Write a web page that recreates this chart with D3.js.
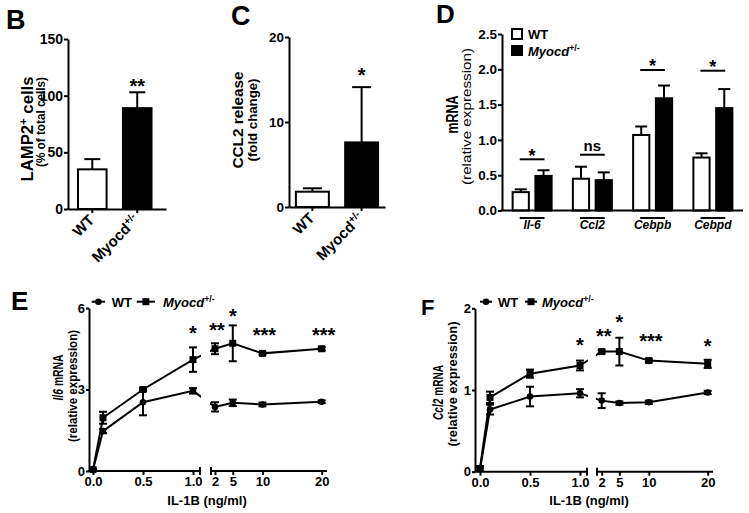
<!DOCTYPE html>
<html><head><meta charset="utf-8">
<script src="https://cdn.jsdelivr.net/npm/d3@7"></script>
<style>
body{margin:0;background:#fff}
svg{display:block;background:#fff}
</style></head><body>
<svg id="chart" width="749" height="513"></svg>
<script>
// ---------------- DATA ----------------
const groups = ["WT", "Myocd+/-"];
// Panel B
const lamp2Mean = [35, 89];
const lamp2Err = [9, 14];
const lamp2Ticks = [0, 50, 100, 150];
const lamp2Sig = ["", "**"];
const lamp2SigY = [0, 112];
// Panel C
const ccl2RelMean = [1.8, 7.6];
const ccl2RelErr = [0.4, 6.5];
const ccl2RelTicks = [0, 10, 20];
const ccl2RelSig = ["", "*"];
const ccl2RelSigY = [0, 16.1];
// Panel D
const genes = ["Il-6", "Ccl2", "Cebpb", "Cebpd"];
const geneWT = [0.26, 0.45, 1.07, 0.75];
const geneWTErr = [0.04, 0.17, 0.12, 0.06];
const geneMyocd = [0.49, 0.43, 1.59, 1.45];
const geneMyocdErr = [0.08, 0.11, 0.18, 0.27];
const geneSig = ["*", "ns", "*", "*"];
const geneSigLineY = [0.725, 0.79, 1.99, 1.98];
const geneTicks = [0, 0.5, 1.0, 1.5, 2.0, 2.5];
// Panels E, F
const doses = [0, 0.1, 0.5, 1, 2, 5, 10, 20];
const doseTicksLow = [0, 0.5, 1];
const doseTicksHigh = [2, 5, 10, 20];
const il6WT = [0.05, 1.47, 2.53, 2.95, 2.36, 2.51, 2.45, 2.55];
const il6WTErr = [0.03, 0.08, 0.48, 0.10, 0.17, 0.12, 0.07, 0.05];
const il6Myocd = [0.05, 1.96, 3.00, 4.10, 4.50, 4.70, 4.33, 4.50];
const il6MyocdErr = [0.03, 0.22, 0.06, 0.45, 0.20, 0.66, 0.05, 0.06];
const il6Sig = ["", "", "", "*", "**", "*", "***", "***"];
const il6SigY = [0, 0, 0, 5.24, 5.37, 5.85, 5.17, 5.17];
const il6Ticks = [0, 3, 6];
const ccl2WT = [0.03, 0.76, 0.92, 0.96, 0.87, 0.84, 0.85, 0.97];
const ccl2WTErr = [0.02, 0.06, 0.12, 0.05, 0.09, 0.02, 0.02, 0.02];
const ccl2Myocd = [0.04, 0.91, 1.20, 1.30, 1.47, 1.47, 1.36, 1.32];
const ccl2MyocdErr = [0.03, 0.07, 0.05, 0.06, 0.02, 0.17, 0.02, 0.05];
const ccl2Sig = ["", "", "", "*", "**", "*", "***", "*"];
const ccl2SigY = [0, 0, 0, 1.61, 1.71, 1.89, 1.65, 1.59];
const ccl2Ticks = [0, 1, 2];

// ---------------- HELPERS ----------------
const FONT = '"Liberation Sans", Arial, Helvetica, sans-serif';
const svg = d3.select("#chart");

function styleAxis(g, fs) {
  g.selectAll("path.domain").attr("stroke", "#000").attr("stroke-width", 2);
  g.selectAll(".tick line").attr("stroke", "#000").attr("stroke-width", 2);
  g.selectAll(".tick text").attr("font-family", FONT).attr("font-weight", "bold")
    .attr("font-size", fs).attr("fill", "#000");
}
function txt(parent, x, y, s, fs, opts = {}) {
  const t = parent.append("text").attr("x", x).attr("y", y)
    .attr("font-family", FONT).attr("font-weight", opts.weight || "bold")
    .attr("font-size", fs).attr("fill", "#000")
    .attr("text-anchor", opts.anchor || "start");
  if (opts.dy) t.attr("dy", opts.dy);
  if (opts.italic) t.attr("font-style", "italic");
  t.text(s);
  return t;
}
// parts: [text, flag] flag: "i" italic, "s" superscript
function richText(parent, parts, fs, opts = {}) {
  const t = parent.append("text").attr("font-family", FONT)
    .attr("font-weight", opts.weight || "bold").attr("font-size", fs)
    .attr("fill", "#000").attr("text-anchor", opts.anchor || "start");
  if (opts.italic) t.attr("font-style", "italic");
  let shifted = false;
  parts.forEach(([s, f]) => {
    const sp = t.append("tspan").text(s);
    if (f && f.includes("i")) sp.attr("font-style", "italic");
    if (f && f.includes("s")) { sp.attr("font-size", fs * 0.68).attr("dy", -fs * 0.38); shifted = true; }
    else if (shifted) { sp.attr("dy", fs * 0.38); shifted = false; }
  });
  return t;
}
function rotLabel(cx, cy, parts, fs, len, weight) {
  const wrap = svg.append("g").attr("transform", `translate(${cx},${cy}) rotate(-90)`);
  const t = richText(wrap, parts, fs, { anchor: "middle", weight: weight || "bold" });
  t.attr("x", 0).attr("y", 0).attr("dy", "0.35em");
  if (len) t.attr("textLength", len).attr("lengthAdjust", "spacingAndGlyphs");
  return t;
}

// ---------------- PANEL LETTERS ----------------
txt(svg, 6, 29, "B", 27);
txt(svg, 231, 25, "C", 27);
txt(svg, 436, 23, "D", 26);
txt(svg, 11, 310, "E", 26);
txt(svg, 421, 315, "F", 22);

// ---------------- BAR PANELS B, C ----------------
function barPanel(means, errs, ticks, sig, sigY, cfg) {
  const g = svg.append("g");
  const y = d3.scaleLinear().domain([0, ticks[ticks.length - 1]]).range(cfg.yRange);
  const x = d3.scaleBand().domain(groups).range(cfg.xRange)
    .paddingInner(cfg.pi).paddingOuter(cfg.po).align(cfg.al);
  g.selectAll("rect.bar").data(groups).join("rect")
    .attr("x", d => x(d) + 1).attr("width", x.bandwidth() - 2)
    .attr("y", (d, i) => y(means[i])).attr("height", (d, i) => y(0) - y(means[i]))
    .attr("fill", (d, i) => i === 0 ? "#fff" : "#000")
    .attr("stroke", "#000").attr("stroke-width", 2);
  groups.forEach((d, i) => {
    const cx = x(d) + x.bandwidth() / 2;
    g.append("line").attr("x1", cx).attr("x2", cx).attr("y1", y(means[i])).attr("y2", y(means[i] + errs[i]))
      .attr("stroke", "#000").attr("stroke-width", 2);
    g.append("line").attr("x1", cx - cfg.cap / 2).attr("x2", cx + cfg.cap / 2)
      .attr("y1", y(means[i] + errs[i])).attr("y2", y(means[i] + errs[i]))
      .attr("stroke", "#000").attr("stroke-width", 2);
    if (sig[i]) txt(g, cx, y(sigY[i]), sig[i], 20, { anchor: "middle", dy: "0.57em" });
  });
  const ya = g.append("g").attr("transform", `translate(${cfg.xRange[0]},0)`)
    .call(d3.axisLeft(y).tickValues(ticks).tickFormat(d3.format("d")).tickSize(4).tickPadding(1).tickSizeOuter(0));
  styleAxis(ya, cfg.tickFs);
  const xa = g.append("g").attr("transform", `translate(0,${cfg.yRange[0]})`)
    .call(d3.axisBottom(x).tickSize(4).tickSizeOuter(0).tickFormat(""));
  styleAxis(xa, 12);
  const c45 = Math.SQRT1_2;
  groups.forEach((d, i) => {
    const cx = x(d) + x.bandwidth() / 2;
    const parts = i === 0 ? [["WT"]] : [["Myocd"], ["+/-", "s"]];
    const wrap = g.append("g")
      .attr("transform", `matrix(${c45},${-c45},${c45},${c45},${cx + 3},${cfg.yRange[0] + 12})`);
    richText(wrap, parts, 15, { anchor: "end" }).attr("x", 0).attr("y", 0);
  });
}
barPanel(lamp2Mean, lamp2Err, lamp2Ticks, lamp2Sig, lamp2SigY,
  { yRange: [209, 39], xRange: [68, 166], pi: 0.32, po: 0.25, al: 0.4, cap: 16, tickFs: 14 });
barPanel(ccl2RelMean, ccl2RelErr, ccl2RelTicks, ccl2RelSig, ccl2RelSigY,
  { yRange: [207, 37], xRange: [289, 385], pi: 0.29, po: 0.12, al: 0.5, cap: 19, tickFs: 13.5 });

rotLabel(27, 129, [["LAMP2"], ["+", "s"], [" cells"]], 16, 105);
rotLabel(41, 122, [["(% of total cells)"]], 12, 90);
rotLabel(238, 120, [["CCL2 release"]], 15.5, 97);
rotLabel(252, 120, [["(fold change)"]], 13.5, 83);

// ---------------- PANEL D ----------------
(function () {
  const g = svg.append("g");
  const y = d3.scaleLinear().domain([0, 2.5]).range([210.5, 34]);
  const x = d3.scaleBand().domain(genes).range([502, 743]);
  const sub = d3.scaleBand().domain(groups).range([-20.5, 20.5]).paddingInner(0.2);
  const vals = [geneWT, geneMyocd], errs = [geneWTErr, geneMyocdErr];
  genes.forEach((gene, gi) => {
    const c = x(gene) + x.bandwidth() / 2;
    groups.forEach((grp, k) => {
      const v = vals[k][gi], e = errs[k][gi];
      const bx = c + sub(grp);
      const cx = bx + sub.bandwidth() / 2;
      g.append("line").attr("x1", cx).attr("x2", cx).attr("y1", y(v)).attr("y2", y(v + e))
        .attr("stroke", "#000").attr("stroke-width", 2);
      g.append("line").attr("x1", cx - 6).attr("x2", cx + 6).attr("y1", y(v + e)).attr("y2", y(v + e))
        .attr("stroke", "#000").attr("stroke-width", 2);
      g.append("rect").attr("x", bx + 1).attr("width", sub.bandwidth() - 2)
        .attr("y", y(v)).attr("height", y(0) - y(v))
        .attr("fill", k === 0 ? "#fff" : "#000").attr("stroke", "#000").attr("stroke-width", 2);
    });
    const x1 = c + sub(groups[0]) + sub.bandwidth() / 2 - 1;
    const x2 = c + sub(groups[1]) + sub.bandwidth() / 2 + 1;
    g.append("line").attr("x1", x1).attr("x2", x2)
      .attr("y1", y(geneSigLineY[gi])).attr("y2", y(geneSigLineY[gi]))
      .attr("stroke", "#000").attr("stroke-width", 2);
    if (geneSig[gi] === "ns") txt(g, c, y(geneSigLineY[gi]) - 4, "ns", 15, { anchor: "middle" });
    else txt(g, c, y(geneSigLineY[gi]) - 8, geneSig[gi], 18, { anchor: "middle", dy: "0.57em" });
    g.append("line").attr("x1", x1).attr("x2", x2).attr("y1", 218).attr("y2", 218)
      .attr("stroke", "#000").attr("stroke-width", 2);
    txt(g, c, 229, gene, 12, { anchor: "middle", italic: true });
  });
  const ya = g.append("g").attr("transform", "translate(502,0)")
    .call(d3.axisLeft(y).tickValues(geneTicks).tickFormat(d3.format(".1f")).tickSize(4).tickPadding(1).tickSizeOuter(0));
  styleAxis(ya, 13.5);
  g.append("line").attr("x1", 501).attr("x2", 743).attr("y1", y(0)).attr("y2", y(0))
    .attr("stroke", "#000").attr("stroke-width", 2);
  g.append("rect").attr("x", 512).attr("y", 29).attr("width", 10).attr("height", 10)
    .attr("fill", "#fff").attr("stroke", "#000").attr("stroke-width", 2);
  g.append("rect").attr("x", 511).attr("y", 45).attr("width", 12).attr("height", 11).attr("fill", "#000");
  txt(g, 528, 39, "WT", 13);
  richText(g, [["Myocd", "i"], ["+/-", "s"]], 13).attr("x", 528).attr("y", 56);
  rotLabel(452, 114.5, [["mRNA"]], 16, 38);
  rotLabel(466.5, 116.5, [["(relative expression)"]], 13.5, 137, "normal");
})();

// ---------------- DOSE PANELS E, F ----------------
function dosePanel(wt, wtE, my, myE, sig, sigY, ticks, cfg) {
  const g = svg.append("g");
  const y = d3.scaleLinear().domain([0, ticks[ticks.length - 1]]).range(cfg.yRange);
  const x1 = d3.scaleLinear().domain([0, 1]).range(cfg.x1Range);
  const x2 = d3.scaleLinear().domain([2, 20]).range(cfg.x2Range);
  const xf = d => d <= 1 ? x1(d) : x2(d);
  const y0 = cfg.yRange[0];
  const ya = g.append("g").attr("transform", `translate(${cfg.axisX},0)`)
    .call(d3.axisLeft(y).tickValues(ticks).tickFormat(d3.format("d")).tickSize(3).tickPadding(1).tickSizeOuter(0));
  styleAxis(ya, 13);
  const xa1 = g.append("g").attr("transform", `translate(0,${y0})`)
    .call(d3.axisBottom(x1).tickValues(doseTicksLow).tickFormat(d3.format(".1f")).tickSize(4).tickPadding(2).tickSizeOuter(0));
  xa1.select("path.domain").remove();
  styleAxis(xa1, 13);
  const xa2 = g.append("g").attr("transform", `translate(0,${y0})`)
    .call(d3.axisBottom(x2).tickValues(doseTicksHigh).tickFormat(d3.format("d")).tickSize(4).tickPadding(2).tickSizeOuter(0));
  xa2.select("path.domain").remove();
  styleAxis(xa2, 13);
  [[cfg.axisX - 1, cfg.seg1End], [cfg.seg2Start, cfg.seg2End]].forEach(([a, b]) => {
    g.append("line").attr("x1", a).attr("x2", b).attr("y1", y0).attr("y2", y0)
      .attr("stroke", "#000").attr("stroke-width", 2);
  });
  [cfg.seg1End - 1, cfg.seg2Start + 1].forEach(bx => {
    g.append("line").attr("x1", bx).attr("x2", bx).attr("y1", y0 - 4).attr("y2", y0 + 4)
      .attr("stroke", "#000").attr("stroke-width", 2);
  });
  const id = cfg.id;
  const defs = svg.append("defs");
  defs.append("clipPath").attr("id", id + "c1").append("rect")
    .attr("x", 0).attr("y", 0).attr("width", cfg.seg1End).attr("height", 513);
  defs.append("clipPath").attr("id", id + "c2").append("rect")
    .attr("x", cfg.seg2Start).attr("y", 0).attr("width", 749 - cfg.seg2Start).attr("height", 513);
  const line = d3.line().x((d, i) => xf(doses[i])).y(d => y(d));
  [wt, my].forEach(series => {
    ["c1", "c2"].forEach(c => {
      g.append("path").datum(series).attr("d", line).attr("fill", "none")
        .attr("stroke", "#000").attr("stroke-width", 2).attr("clip-path", `url(#${id}${c})`);
    });
  });
  [[wt, wtE, "c"], [my, myE, "s"]].forEach(([vals, errs, shape]) => {
    vals.forEach((v, i) => {
      const cx = xf(doses[i]);
      const e = errs[i];
      g.append("line").attr("x1", cx).attr("x2", cx).attr("y1", y(v - e)).attr("y2", y(v + e))
        .attr("stroke", "#000").attr("stroke-width", 2);
      [v - e, v + e].forEach(w => g.append("line").attr("x1", cx - 4).attr("x2", cx + 4)
        .attr("y1", y(w)).attr("y2", y(w)).attr("stroke", "#000").attr("stroke-width", 2));
      if (shape === "c") g.append("circle").attr("cx", cx).attr("cy", y(v)).attr("r", 3.3).attr("fill", "#000");
      else g.append("rect").attr("x", cx - 3.5).attr("y", y(v) - 3.5).attr("width", 7).attr("height", 7).attr("fill", "#000");
    });
  });
  sig.forEach((s, i) => {
    if (s) txt(g, xf(doses[i]) + (s.length > 1 ? 2 : 0), y(sigY[i]), s, 20, { anchor: "middle", dy: "0.57em" });
  });
  const ly = cfg.legendY;
  g.append("line").attr("x1", cfg.lg[0]).attr("x2", cfg.lg[1]).attr("y1", ly).attr("y2", ly)
    .attr("stroke", "#000").attr("stroke-width", 2);
  g.append("circle").attr("cx", (cfg.lg[0] + cfg.lg[1]) / 2).attr("cy", ly).attr("r", 3.3).attr("fill", "#000");
  txt(g, cfg.lg[2], ly + 5, "WT", 13);
  g.append("line").attr("x1", cfg.lg[3]).attr("x2", cfg.lg[4]).attr("y1", ly).attr("y2", ly)
    .attr("stroke", "#000").attr("stroke-width", 2);
  g.append("rect").attr("x", (cfg.lg[3] + cfg.lg[4]) / 2 - 3.5).attr("y", ly - 3.5).attr("width", 7).attr("height", 7).attr("fill", "#000");
  richText(g, [["Myocd", "i"], ["+/-", "s"]], 13).attr("x", cfg.lg[5]).attr("y", ly + 5);
  richText(g, [["IL-1B "], ["(ng/ml)"]], 13, { anchor: "middle" }).attr("x", cfg.xTitle).attr("y", 505);
}
dosePanel(il6WT, il6WTErr, il6Myocd, il6MyocdErr, il6Sig, il6SigY, il6Ticks, {
  id: "e", yRange: [471, 308], axisX: 89, x1Range: [93, 193], x2Range: [215, 321.7],
  seg1End: 201, seg2Start: 210, seg2End: 327, legendY: 301.7,
  lg: [91.7, 105, 111.7, 136.7, 155, 163], xTitle: 207
});
dosePanel(ccl2WT, ccl2WTErr, ccl2Myocd, ccl2MyocdErr, ccl2Sig, ccl2SigY, ccl2Ticks, {
  id: "f", yRange: [471.7, 308.3], axisX: 475, x1Range: [480, 580], x2Range: [601.7, 707.7],
  seg1End: 588, seg2Start: 596, seg2End: 713, legendY: 301.7,
  lg: [480, 492, 498, 525, 537, 542], xTitle: 589
});
rotLabel(58, 377.5, [["Il6", "i"], [" mRNA"]], 14, 46);
rotLabel(72.5, 386, [["(relative expression)"]], 12, 112);
rotLabel(438, 392.5, [["Ccl2", "i"], [" mRNA"]], 14, 55);
rotLabel(452.5, 384, [["(relative expression)"]], 13, 125);
</script>
</body></html>
